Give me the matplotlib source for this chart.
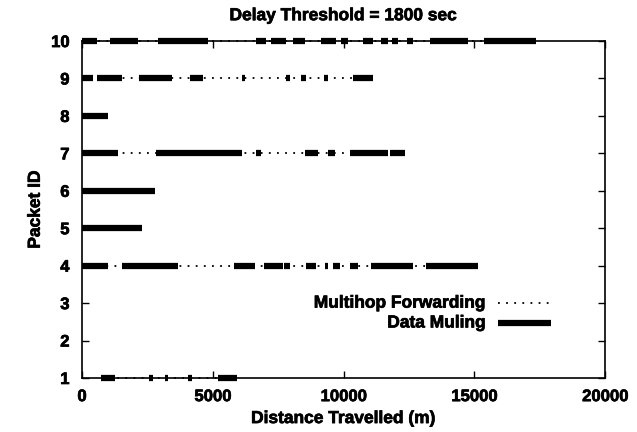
import matplotlib.pyplot as plt
import matplotlib.patheffects as pe

plt.rcParams["font.family"] = ["Liberation Sans", "DejaVu Sans"]
plt.rcParams["font.weight"] = "bold"

# data muling segments (start, end) in metres, per packet id
muling_10 = [(0, 560), (1070, 2150), (2915, 4825), (6650, 7055), (7245, 7820),
             (8050, 8520), (9155, 9730), (9920, 10175), (10750, 11130),
             (11450, 11700), (11870, 12085), (12430, 12660), (13295, 14760),
             (15370, 17370)]
muling_9 = [(0, 430), (585, 1515), (2190, 3425), (4125, 4610), (6100, 6230),
            (7795, 7945), (8390, 8580), (9245, 9410), (10365, 11130)]
muling_8 = [(0, 980)]
muling_7 = [(0, 1390), (2830, 6100), (6650, 6860), (8520, 9030), (9410, 9665),
            (10240, 11700), (11780, 12340)]
muling_6 = [(0, 2790)]
muling_5 = [(0, 2280)]
muling_4 = [(0, 1005), (1515, 3680), (5820, 6610), (6965, 7690), (7730, 7945),
            (8580, 8960), (9280, 9410), (9600, 9850), (10240, 10555),
            (11065, 12660), (13170, 15140)]
muling_1 = [(715, 1260), (2550, 2700), (3170, 3300), (4060, 4190), (5210, 5910)]

packets = {10: muling_10, 9: muling_9, 8: muling_8, 7: muling_7,
           6: muling_6, 5: muling_5, 4: muling_4, 1: muling_1}

x_ticks = [0, 5000, 10000, 15000, 20000]
y_ticks = list(range(1, 11))

heavy = [pe.withStroke(linewidth=0.5, foreground="black")]

fig = plt.figure(figsize=(6.37, 4.32), dpi=100)
ax = fig.add_axes([0.1287, 0.125, 0.8211, 0.780])

for pid, segs in packets.items():
    start = segs[0][0]
    end = segs[-1][1]
    ax.plot([start, end], [pid, pid], color="black", lw=1.3,
            linestyle=(0, (1, 3.5)), clip_on=False)
    for a, b in segs:
        ax.plot([a, b], [pid, pid], color="black", lw=4.5,
                solid_capstyle="butt", clip_on=False)

ax.set_xlim(0, 20000)
ax.set_ylim(1, 10)
ax.set_xticks(x_ticks)
ax.set_yticks(y_ticks)
ax.tick_params(direction="in", top=True, right=True, length=5, width=1,
               labelsize=12)
ax.tick_params(axis="x", pad=8)
ax.tick_params(axis="y", pad=9)
for lbl in ax.get_xticklabels() + ax.get_yticklabels():
    lbl.set_path_effects(heavy)
for s in ax.spines.values():
    s.set_linewidth(1.2)

ax.set_xlabel("Distance Travelled (m)", fontsize=12.5, fontweight="bold",
              labelpad=5, path_effects=heavy)
ax.set_ylabel("Packet ID", fontsize=12.5, fontweight="bold", labelpad=6,
              path_effects=heavy)
ax.set_title("Delay Threshold = 1800 sec", fontsize=12.5, fontweight="bold",
             pad=15, path_effects=heavy)

# legend, gnuplot style: text right aligned, sample to the right
ax.text(15450, 3.0, "Multihop Forwarding", ha="right", va="center",
        fontsize=12.5, fontweight="bold", path_effects=heavy)
ax.text(15450, 2.47, "Data Muling", ha="right", va="center",
        fontsize=12.5, fontweight="bold", path_effects=heavy)
ax.plot([15900, 17950], [3.0, 3.0], color="black", lw=1.3,
        linestyle=(0, (1, 3.5)))
ax.plot([15900, 17950], [2.47, 2.47], color="black", lw=4.5,
        solid_capstyle="butt")

fig.savefig("out.png", dpi=100)
